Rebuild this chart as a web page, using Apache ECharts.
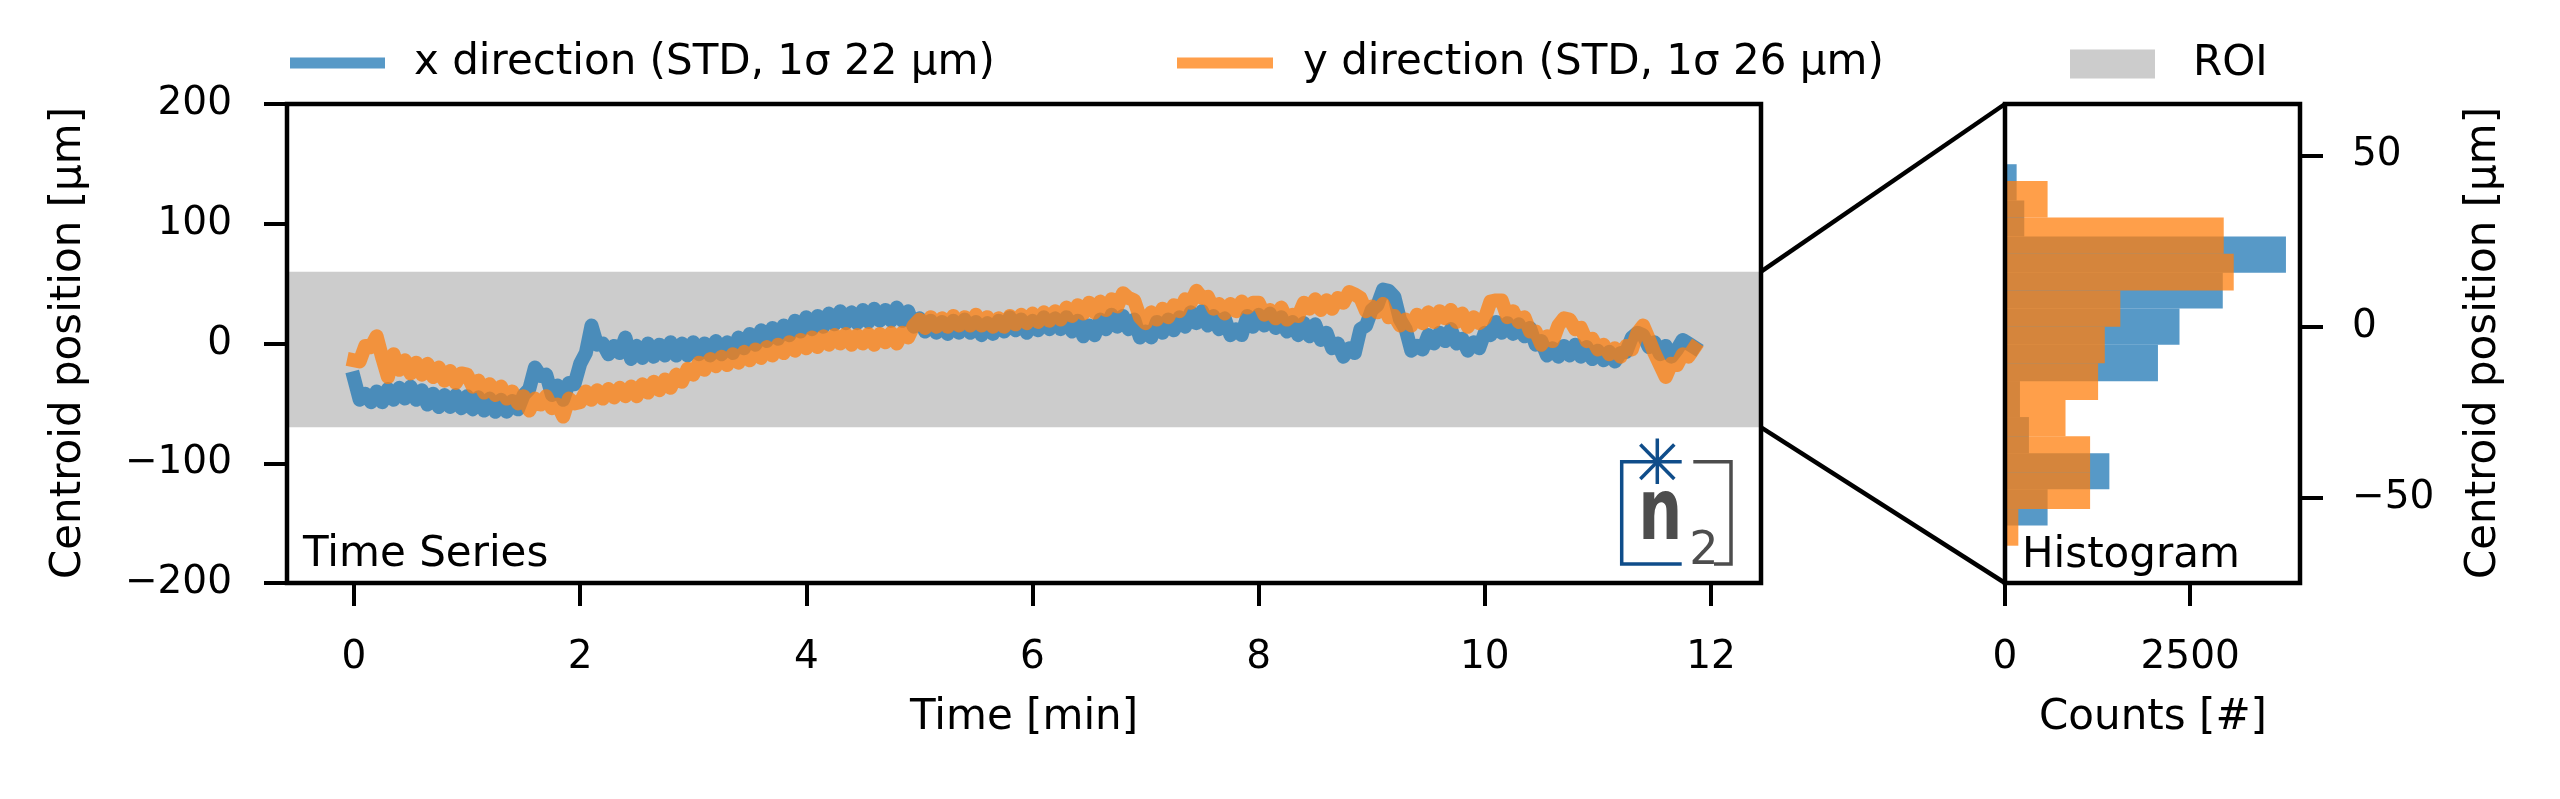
<!DOCTYPE html>
<html><head><meta charset="utf-8">
<script src="https://cdn.jsdelivr.net/npm/echarts@6/dist/echarts.min.js"></script>
<style>html,body{margin:0;padding:0;background:#fff}#c{width:2560px;height:799px}</style>
</head><body><div id="c"></div>
<script>
// ---- data ----
const SAMPLE_STEP_MIN = 0.05; // time between samples [min]
const xDirection = [
 -29,-47,-42,-49,-40,-49,-38,-47,-37,-46,-36,-47,-39,-51,-42,-53,-43,-53,-43,-54,
 -44,-55,-45,-56,-46,-57,-47,-57,-48,-55,-43,-38,-20,-27,-26,-43,-35,-47,-33,-34,
 -17,-8,15,-1,0,-9,-2,-8,5,-13,-2,-12,0,-11,-1,-10,1,-10,0,-10,
 1,-9,0,-10,2,-9,1,-8,5,-4,8,-1,11,2,13,4,15,7,19,10,
 22,12,23,14,25,16,27,17,26,17,28,18,29,19,28,19,30,19,27,14,
 21,10,19,9,18,8,19,9,20,9,18,7,17,8,19,10,22,11,20,9,
 19,11,22,12,21,12,22,10,19,6,15,7,20,12,24,14,23,12,20,5,
 10,5,18,9,20,11,22,14,26,17,27,15,23,12,21,7,12,7,23,14,
 24,15,25,13,22,10,18,7,17,6,16,3,9,-4,0,-11,-4,-8,12,15,
 28,32,45,44,39,20,12,-6,-2,-5,7,0,9,2,12,0,4,-6,1,-4,
 9,7,18,9,17,8,16,6,13,-1,2,-10,-4,-11,-2,-10,-1,-11,-3,-13,
 -6,-14,-7,-15,-8,-7,5,9,7,-3,1,-9,-2,-11,-5,3,0,-3
];
const yDirection = [
 -14,-15,-2,-3,6,-12,-28,-9,-22,-14,-25,-16,-26,-17,-28,-20,-31,-23,-33,-25,
 -26,-36,-31,-41,-34,-43,-36,-46,-40,-50,-44,-56,-46,-51,-44,-54,-51,-61,-46,-50,
 -49,-40,-47,-39,-46,-38,-45,-37,-44,-36,-44,-34,-41,-32,-39,-30,-37,-26,-32,-21,
 -26,-16,-22,-13,-19,-11,-18,-9,-16,-7,-14,-5,-12,-3,-10,-1,-8,1,-6,3,
 -4,5,-3,6,-1,7,0,8,-1,7,0,8,-1,8,1,9,0,9,5,15,
 20,13,22,14,21,14,23,15,22,15,24,15,22,14,21,14,23,16,24,17,
 25,18,26,19,27,20,30,23,32,25,34,26,35,28,37,31,42,38,36,22,
 17,26,20,29,22,32,27,37,34,44,38,39,29,33,25,33,27,35,30,34,
 34,24,28,21,30,20,24,23,34,29,37,28,36,29,38,34,43,41,38,27,
 31,26,33,22,23,15,20,15,24,17,26,18,27,21,28,18,25,14,22,17,
 21,35,36,36,22,27,18,22,10,10,-1,6,2,15,21,20,12,13,2,4,
 -5,-1,-9,-4,-11,-2,-5,9,15,4,-8,-18,-28,-17,-18,-9,-11,-4
];
const roiRange = [-70, 60];
const histYRange = [-75, 65];
const xHistEdges = [-58.2, -47.6, -37.1, -26.5, -16.0, -5.4, 5.2, 15.7, 26.3, 36.8, 47.4];
const xHistCounts = [575, 1409, 323, 202, 2065, 2356, 2940, 3793, 260, 157];
const yHistEdges = [-64.1, -53.4, -42.8, -32.1, -21.5, -10.8, -0.1, 10.5, 21.2, 31.8, 42.5];
const yHistCounts = [180, 1149, 1149, 817, 1257, 1347, 1557, 3088, 2953, 575];
const timeTicks = [0, 2, 4, 6, 8, 10, 12];
const countTicks = [0, 2500];
const histPosTicks = [-50, 0, 50];
const NAME_X = 'x direction (STD, 1σ 22 μm)';
const NAME_Y = 'y direction (STD, 1σ 26 μm)';
const NAME_ROI = 'ROI';

// ---- chart ----
const FONT = 'DejaVu Sans';
const BLUE = 'rgba(31,119,180,0.75)';
const ORANGE = 'rgba(255,127,14,0.75)';
const minus = v => v < 0 ? '\u2212' + Math.abs(v) : String(v);
const tEnd = (xDirection.length - 1) * SAMPLE_STEP_MIN;
const tPad = 0.05 * tEnd;
const histMax = Math.max(...xHistCounts, ...yHistCounts) * 1.05;
const toPairs = arr => arr.map((v, i) => [i * SAMPLE_STEP_MIN, v]);
const toBins = (edges, counts) => counts.map((c, i) => [edges[i], edges[i + 1], c]);

const chart = echarts.init(document.getElementById('c'), null, {renderer: 'canvas', width: 2560, height: 799});

const tick = {show: true, length: 23, lineStyle: {width: 4, color: '#000'}};
const lbl = {fontSize: 39, fontFamily: FONT, color: '#000'};
const noLine = {show: false, onZero: false};

function histRender(color) {
  return function (params, api) {
    const lo = api.value(0), hi = api.value(1), c = api.value(2);
    const a = api.coord([0, hi]), b = api.coord([c, lo]);
    return {type: 'rect', shape: {x: a[0], y: a[1], width: b[0] - a[0], height: b[1] - a[1]}, style: {fill: color}};
  };
}

const legendBase = {padding: 0, itemGap: 0, selectedMode: false, orient: 'horizontal'};
const option = {
  animation: false,
  backgroundColor: '#fff',
  grid: [
    {left: 287, top: 104, width: 1474, height: 479, show: true, borderColor: '#000', borderWidth: 4.5, z: 10},
    {left: 2005, top: 104, width: 295, height: 479, show: true, borderColor: '#000', borderWidth: 4.5, z: 10}
  ],
  xAxis: [
    {gridIndex: 0, type: 'value', position: 'bottom', min: -tPad, max: tEnd + tPad, axisLine: noLine, splitLine: {show: false},
     axisTick: Object.assign({customValues: timeTicks}, tick),
     axisLabel: Object.assign({customValues: timeTicks, margin: 55, formatter: minus}, lbl)},
    {gridIndex: 1, type: 'value', position: 'bottom', min: 0, max: histMax, axisLine: noLine, splitLine: {show: false},
     axisTick: Object.assign({customValues: countTicks}, tick),
     axisLabel: Object.assign({customValues: countTicks, margin: 55, formatter: minus}, lbl)}
  ],
  yAxis: [
    {gridIndex: 0, type: 'value', position: 'left', min: -200, max: 200, interval: 100, axisLine: noLine, splitLine: {show: false},
     axisTick: tick, axisLabel: Object.assign({margin: 55, formatter: minus}, lbl)},
    {gridIndex: 1, type: 'value', position: 'right', min: histYRange[0], max: histYRange[1], axisLine: noLine, splitLine: {show: false},
     axisTick: Object.assign({customValues: histPosTicks}, tick),
     axisLabel: Object.assign({customValues: histPosTicks, margin: 52, formatter: minus}, lbl)}
  ],
  legend: [
    Object.assign({left: 290, top: 42, itemWidth: 95, itemHeight: 11,
      data: [{name: NAME_X, icon: 'rect', itemStyle: {color: BLUE, borderWidth: 0}}],
      textStyle: {fontFamily: FONT, fontSize: 42, color: '#000', padding: [0, 0, 0, 24]}}, legendBase),
    Object.assign({left: 1177, top: 42, itemWidth: 96, itemHeight: 11,
      data: [{name: NAME_Y, icon: 'rect', itemStyle: {color: ORANGE, borderWidth: 0}}],
      textStyle: {fontFamily: FONT, fontSize: 42, color: '#000', padding: [0, 0, 0, 25]}}, legendBase),
    Object.assign({left: 2070, top: 43, itemWidth: 85, itemHeight: 29,
      data: [{name: NAME_ROI, icon: 'rect', itemStyle: {color: '#cccccc', borderWidth: 0}}],
      textStyle: {fontFamily: FONT, fontSize: 42, color: '#000', padding: [0, 0, 0, 33]}}, legendBase)
  ],
  series: [
    {type: 'custom', name: NAME_ROI, xAxisIndex: 0, yAxisIndex: 0, z: 1, silent: true,
     itemStyle: {color: '#cccccc'},
     data: [[0, roiRange[0], roiRange[1]]], encode: {x: 0, y: [1, 2]},
     renderItem: (params, api) => {
       const cs = params.coordSys;
       const top = api.coord([0, api.value(2)])[1];
       const bot = api.coord([0, api.value(1)])[1];
       return {type: 'rect', shape: {x: cs.x, y: top, width: cs.width, height: bot - top}, style: {fill: '#cccccc'}};
     }},
    {type: 'line', name: NAME_X, xAxisIndex: 0, yAxisIndex: 0, z: 3, silent: true, showSymbol: false, symbol: 'none',
     data: toPairs(xDirection), itemStyle: {color: BLUE},
     lineStyle: {width: 14, color: BLUE, join: 'round', cap: 'square'}},
    {type: 'line', name: NAME_Y, xAxisIndex: 0, yAxisIndex: 0, z: 4, silent: true, showSymbol: false, symbol: 'none',
     data: toPairs(yDirection), itemStyle: {color: ORANGE},
     lineStyle: {width: 14, color: ORANGE, join: 'round', cap: 'square'}},
    {type: 'custom', name: 'hist x', xAxisIndex: 1, yAxisIndex: 1, z: 3, silent: true,
     data: toBins(xHistEdges, xHistCounts), encode: {x: 2, y: [0, 1]}, renderItem: histRender(BLUE)},
    {type: 'custom', name: 'hist y', xAxisIndex: 1, yAxisIndex: 1, z: 4, silent: true,
     data: toBins(yHistEdges, yHistCounts), encode: {x: 2, y: [0, 1]}, renderItem: histRender(ORANGE)}
  ]
};
chart.setOption(option);

// connectors + texts + logo
const a1 = chart.convertToPixel({xAxisIndex: 0, yAxisIndex: 0}, [tEnd + tPad, roiRange[1]]);
const a2 = chart.convertToPixel({xAxisIndex: 0, yAxisIndex: 0}, [tEnd + tPad, roiRange[0]]);
const b1 = chart.convertToPixel({xAxisIndex: 1, yAxisIndex: 1}, [0, histYRange[1]]);
const b2 = chart.convertToPixel({xAxisIndex: 1, yAxisIndex: 1}, [0, histYRange[0]]);
const LOGO_BLUE = '#0f4d8a', LOGO_GRAY = '#4d4d4d';
const txt = (x, y, text, extra) => Object.assign({type: 'text', x: x, y: y, z: 50,
  style: Object.assign({text: text, fontFamily: FONT, fontSize: 42, fill: '#000', align: 'center', verticalAlign: 'middle'}, extra || {})});
chart.setOption({
  graphic: [
    {type: 'line', z: 50, shape: {x1: a1[0], y1: a1[1], x2: b1[0], y2: b1[1]}, style: {stroke: '#000', lineWidth: 4.5}},
    {type: 'line', z: 50, shape: {x1: a2[0], y1: a2[1], x2: b2[0], y2: b2[1]}, style: {stroke: '#000', lineWidth: 4.5}},
    txt(303, 555.5, 'Time Series', {align: 'left'}),
    txt(2022, 556.5, 'Histogram', {align: 'left'}),
    txt(1024, 718, 'Time [min]'),
    txt(2153, 718, 'Counts [#]'),
    Object.assign(txt(69, 343, 'Centroid position [μm]'), {rotation: Math.PI / 2}),
    Object.assign(txt(2484, 343, 'Centroid position [μm]'), {rotation: Math.PI / 2}),
    // logo
    {type: 'polyline', z: 50, shape: {points: [[1681.7, 461.7], [1621.7, 461.7], [1621.7, 564], [1681.7, 564]]}, style: {stroke: LOGO_BLUE, lineWidth: 3.5, fill: null}},
    {type: 'line', z: 50, shape: {x1: 1657.3, y1: 438.5, x2: 1657.3, y2: 484}, style: {stroke: LOGO_BLUE, lineWidth: 3.5}},
    {type: 'line', z: 50, shape: {x1: 1640.3, y1: 444.5, x2: 1674.3, y2: 479}, style: {stroke: LOGO_BLUE, lineWidth: 3.5}},
    {type: 'line', z: 50, shape: {x1: 1674.3, y1: 444.5, x2: 1640.3, y2: 479}, style: {stroke: LOGO_BLUE, lineWidth: 3.5}},
    {type: 'polyline', z: 50, shape: {points: [[1693.3, 461.7], [1731, 461.7], [1731, 564], [1714, 564]]}, style: {stroke: LOGO_GRAY, lineWidth: 3.5, fill: null}},
    Object.assign(txt(1660.4, 516.2, 'n', {fontSize: 86, fontWeight: 'bold', fill: LOGO_GRAY}), {scaleX: 0.72}),
    txt(1704, 552, '2', {fontSize: 46, fill: LOGO_GRAY})
  ]
});
</script>
</body></html>
